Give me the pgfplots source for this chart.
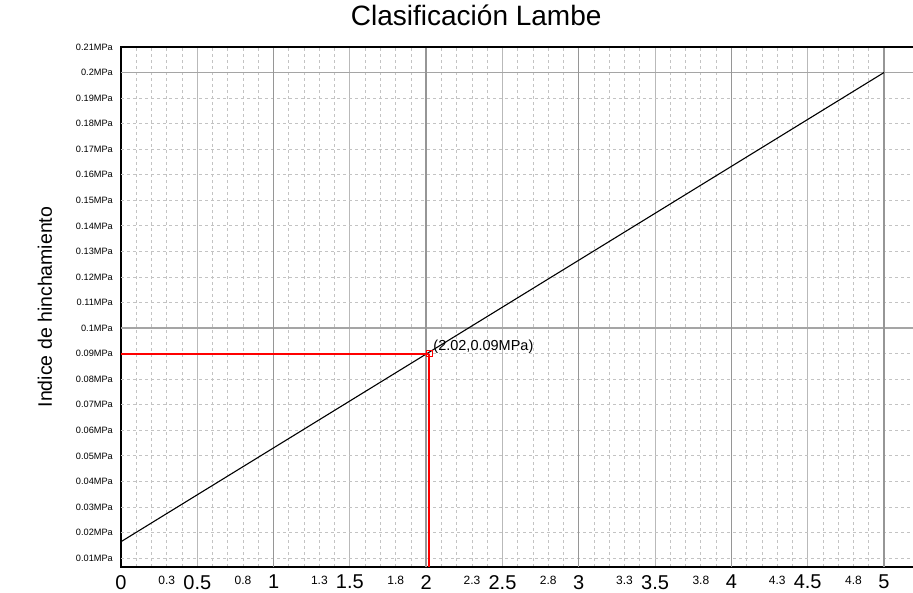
\documentclass[border=0pt]{standalone}
\usepackage{fontspec}
\setmainfont{Liberation Sans}
\usepackage{pgfplots}
\pgfplotsset{compat=1.18}
\definecolor{gridmin}{RGB}{195,195,195}
\definecolor{gridhalf}{RGB}{185,185,185}
\definecolor{gridint}{RGB}{150,150,150}
\definecolor{gridy}{RGB}{165,165,165}
\begin{document}
\begin{tikzpicture}
\useasboundingbox (0,0) rectangle (913pt,593pt);
\begin{axis}[
  at={(121pt,26pt)}, anchor=south west,
  scale only axis, width=793.5pt, height=520pt,
  xmin=0, xmax=5.2, ymin=0.0065, ymax=0.21,
  clip=false,
  axis line style={black, line width=1.4pt},
  major tick length=0pt, minor tick length=0pt,
  xtick={0,0.5,1,1.5,2,2.5,3,3.5,4,4.5,5},
  xticklabels={0,0.5,1,1.5,2,2.5,3,3.5,4,4.5,5},
  minor x tick num=4,
  xmajorgrids=true, xminorgrids=true,
  major grid style={gridhalf, line width=1.1pt},
  minor grid style={gridmin, dash pattern=on 3pt off 3pt, line width=0.8pt},
  xticklabel style={font=\fontsize{20}{20}\selectfont, inner sep=0pt, anchor=north, yshift=-8pt},
  extra x ticks={0.3,0.8,1.3,1.8,2.3,2.8,3.3,3.8,4.3,4.8},
  extra x tick labels={0.3,0.8,1.3,1.8,2.3,2.8,3.3,3.8,4.3,4.8},
  extra x tick style={grid=none, xticklabel style={font=\fontsize{12}{12}\selectfont, yshift=-1pt}},
  ytick={0.01,0.02,0.03,0.04,0.05,0.06,0.07,0.08,0.09,0.1,0.11,0.12,0.13,0.14,0.15,0.16,0.17,0.18,0.19,0.2,0.21},
  yticklabels={0.01MPa,0.02MPa,0.03MPa,0.04MPa,0.05MPa,0.06MPa,0.07MPa,0.08MPa,0.09MPa,0.1MPa,0.11MPa,0.12MPa,0.13MPa,0.14MPa,0.15MPa,0.16MPa,0.17MPa,0.18MPa,0.19MPa,0.2MPa,0.21MPa},
  ymajorgrids=false,
  yticklabel style={font=\fontsize{9.2}{9.2}\selectfont, inner sep=0pt, anchor=east, xshift=-8pt},
  title={Clasificación Lambe},
  title style={at={(axis description cs:0.4477,1)}, anchor=base, yshift=15pt, font=\fontsize{28}{30}\selectfont},
  ylabel={Indice de hinchamiento},
  every axis y label/.style={at={(axis description cs:-0.0958,0.5)}, rotate=90, anchor=center, font=\fontsize{19.5}{20}\selectfont},
]
% dashed horizontal grid at 0.01 steps
\pgfplotsinvokeforeach{0.01,0.02,0.03,0.04,0.05,0.06,0.07,0.08,0.09,0.11,0.12,0.13,0.14,0.15,0.16,0.17,0.18,0.19}{
  \draw[gridmin, dash pattern=on 3pt off 3pt, line width=0.8pt] (axis cs:0,#1) -- (axis cs:5.2,#1);
}
% solid horizontal grid at 0.1 and 0.2
\pgfplotsinvokeforeach{0.1,0.2}{
  \draw[gridy, line width=1.3pt] (axis cs:0,#1) -- (axis cs:5.2,#1);
}
% darker integer grid lines
\pgfplotsinvokeforeach{1,2,3,4,5}{
  \draw[gridint, line width=1.4pt] (axis cs:#1,0.0065) -- (axis cs:#1,0.21);
}
\draw[black, line width=1.4pt] (axis cs:0,0.21) -- (axis cs:5.2,0.21);
\addplot[black, line width=1.1pt] coordinates {(0,0.0164) (5,0.2)};
\addplot[red, line width=1.8pt, mark=none] coordinates {(0,0.09) (2.02,0.09)};
\addplot[red, line width=1.6pt, mark=none] coordinates {(2.02,0.09) (2.02,0.0065)};
\addplot[red, only marks, mark=square, mark size=3.2pt, mark options={line width=0.9pt, solid, fill=none}] coordinates {(2.02,0.09)};
\node[anchor=base west, inner sep=0pt, font=\fontsize{14.5}{15}\selectfont, xshift=4pt, yshift=3pt] at (axis cs:2.02,0.09) {(2.02,0.09MPa)};
\end{axis}
\end{tikzpicture}
\end{document}
